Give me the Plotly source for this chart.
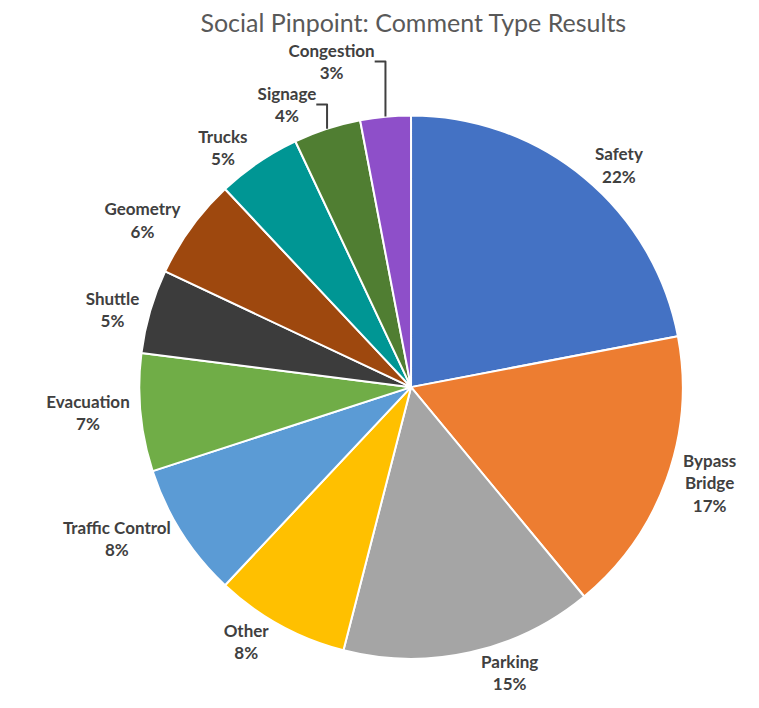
import plotly.graph_objects as go

labels = ["Safety", "Bypass Bridge", "Parking", "Other", "Traffic Control",
          "Evacuation", "Shuttle", "Geometry", "Trucks", "Signage", "Congestion"]
# label text as shown on the chart (long one wrapped so it stays on the page)
label_text = ["Safety", "Bypass<br>Bridge", "Parking", "Other", "Traffic Control",
              "Evacuation", "Shuttle", "Geometry", "Trucks", "Signage", "Congestion"]
values = [22, 17, 15, 8, 8, 7, 5, 6, 5, 4, 3]
colors = ["#4472C4", "#ED7D31", "#A5A5A5", "#FFC000", "#5B9BD5",
          "#70AD47", "#3C3C3C", "#9E480E", "#009694", "#507E32", "#8E4FC9"]

fig = go.Figure(
    go.Pie(
        labels=labels,
        values=values,
        text=label_text,
        sort=False,
        direction="clockwise",
        rotation=0,
        marker=dict(colors=colors, line=dict(color="white", width=2)),
        textposition="outside",
        texttemplate="<b>%{text}</b><br><b>%{value}%</b>",
        textfont=dict(family="Lato, Open Sans, sans-serif", size=17, color="#404040"),
        showlegend=False,
        automargin=False,
        domain=dict(x=[0.173, 0.889], y=[0.08, 0.849]),
    )
)

fig.update_layout(
    width=759,
    height=708,
    title=dict(
        text="Social Pinpoint: Comment Type Results",
        x=0.534, xanchor="center", y=0.979, yanchor="middle",
        font=dict(family="Lato, Open Sans, sans-serif", size=25, color="#595959"),
    ),
    margin=dict(l=0, r=0, t=0, b=0),
    paper_bgcolor="white",
)

fig.write_html("out.html")
